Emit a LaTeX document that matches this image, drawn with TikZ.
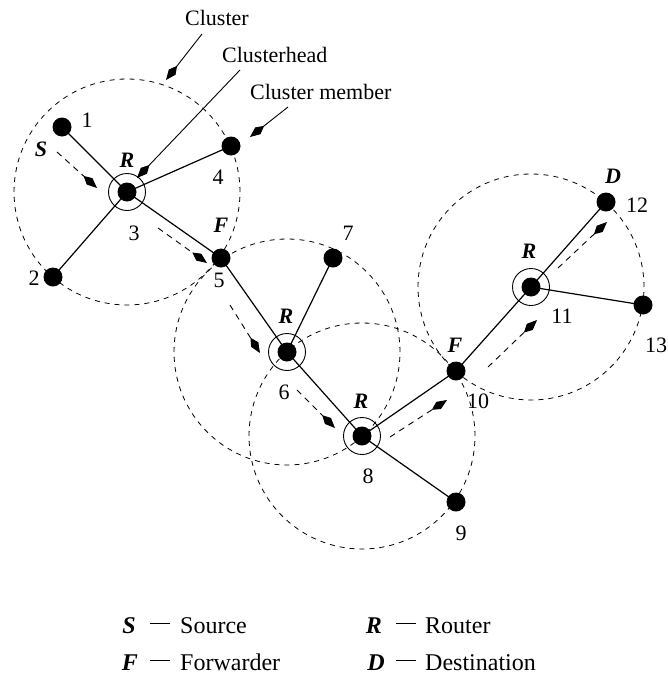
\documentclass[tikz,border=0pt]{standalone}
\usepackage{fontspec}
\setmainfont{Liberation Serif}
\usetikzlibrary{arrows.meta}
\begin{document}
\begin{tikzpicture}[x=1pt,y=-1pt,
  nodedot/.style={circle,fill=black,inner sep=0pt,minimum size=19pt},
  linkline/.style={line width=1.2pt},
  clusterzone/.style={line width=0.8pt,dash pattern=on 5pt off 5pt},
  headring/.style={draw,circle,line width=0.9pt,minimum size=37pt,inner sep=0pt},
  kitetip/.style={-{Kite[length=18pt,width=8.5pt,inset=8pt]}},
  flowline/.style={kitetip,line width=0.9pt,dash pattern=on 6pt off 5pt},
  noteline/.style={kitetip,line width=0.9pt},
  numlabel/.style={font=\fontsize{22}{26}\selectfont,inner sep=0pt,anchor=base},
  rolelabel/.style={numlabel,font=\fontsize{22}{26}\selectfont\bfseries\itshape},
  keytext/.style={font=\fontsize{24}{28}\selectfont,inner sep=0pt,anchor=base west},
  keyrole/.style={font=\fontsize{24}{28}\selectfont\bfseries\itshape,inner sep=0pt,anchor=base},
]
\useasboundingbox (0,0) rectangle (668,678);

% node positions
\coordinate (p1) at (62,127);
\coordinate (p2) at (53,277);
\coordinate (p3) at (127,192);
\coordinate (p4) at (231,146);
\coordinate (p5) at (221,258);
\coordinate (p6) at (287,352);
\coordinate (p7) at (333,258);
\coordinate (p8) at (362,436);
\coordinate (p9) at (456,502);
\coordinate (p10) at (456,371);
\coordinate (p11) at (531,287);
\coordinate (p12) at (606,202);
\coordinate (p13) at (643,305);

% cluster ranges around the clusterheads
\foreach \c in {p3,p6,p8,p11}
  \draw[clusterzone] (\c) circle[radius=113pt];

% links
\draw[linkline] (p1) -- (p3);
\draw[linkline] (p2) -- (p3);
\draw[linkline] (p4) -- (p3);
\draw[linkline] (p3) -- (p5);
\draw[linkline] (p5) -- (p6);
\draw[linkline] (p7) -- (p6);
\draw[linkline] (p6) -- (p8);
\draw[linkline] (p8) -- (p9);
\draw[linkline] (p8) -- (p10);
\draw[linkline] (p10) -- (p11);
\draw[linkline] (p11) -- (p12);
\draw[linkline] (p11) -- (p13);

% clusterhead rings
\foreach \c in {p3,p6,p8,p11}
  \node[headring] at (\c) {};

% nodes
\foreach \i in {1,...,13}
  \node[nodedot] (n\i) at (p\i) {};

% node numbers
\node[numlabel] (t1) at (87,127) {1};
\node[numlabel] (t2) at (34,285) {2};
\node[numlabel] (t3) at (134,240) {3};
\node[numlabel] (t4) at (218,184) {4};
\node[numlabel] (t5) at (219,287) {5};
\node[numlabel] (t6) at (284,399) {6};
\node[numlabel] (t7) at (348,240) {7};
\node[numlabel] (t8) at (368,483) {8};
\node[numlabel] (t9) at (461,540) {9};
\node[numlabel] (t10) at (478,408) {10};
\node[numlabel] (t11) at (562,323) {11};
\node[numlabel] (t12) at (637,212) {12};
\node[numlabel] (t13) at (656,352) {13};

% roles
\node[rolelabel] (rS) at (41,156) {S};
\node[rolelabel] (rR3) at (127,167) {R};
\node[rolelabel] (rF5) at (221,232) {F};
\node[rolelabel] (rR6) at (286,323) {R};
\node[rolelabel] (rR8) at (361,408) {R};
\node[rolelabel] (rF10) at (455,352) {F};
\node[rolelabel] (rR11) at (529,258) {R};
\node[rolelabel] (rD) at (613,183) {D};

% forwarding path
\coordinate (f1a) at (57,152);  \coordinate (f1b) at (97,188);
\coordinate (f2a) at (158,228); \coordinate (f2b) at (207,263);
\coordinate (f3a) at (230,305); \coordinate (f3b) at (260,353);
\coordinate (f4a) at (297,390); \coordinate (f4b) at (335,428);
\coordinate (f5a) at (390,437); \coordinate (f5b) at (447,400);
\coordinate (f6a) at (488,367); \coordinate (f6b) at (537,320);
\coordinate (f7a) at (558,268); \coordinate (f7b) at (607,222);
\foreach \k in {1,...,7}
  \draw[flowline] (f\k a) -- (f\k b);

% annotations
\node[numlabel,anchor=base west] (cl) at (185,25) {Cluster};
\node[numlabel,anchor=base west] (ch) at (222,62) {Clusterhead};
\node[numlabel,anchor=base west] (cm) at (250,99) {Cluster member};
\coordinate (a1) at (202,34);  \coordinate (b1) at (166,80);
\coordinate (a2) at (240,70);  \coordinate (b2) at (137,178);
\coordinate (a3) at (288,107); \coordinate (b3) at (250,137);
\draw[noteline] (a1) -- (b1);
\draw[noteline] (a2) -- (b2);
\draw[noteline] (a3) -- (b3);

% legend
\node[keyrole] (kS) at (129,633) {S};
\node[keytext] (dS) at (150,633) {\rule[9.5pt]{20pt}{0.9pt}};
\node[keytext] (wS) at (180,633) {Source};
\node[keyrole] (kR) at (374,633) {R};
\node[keytext] (dR) at (396,633) {\rule[9.5pt]{20pt}{0.9pt}};
\node[keytext] (wR) at (425,633) {Router};
\node[keyrole] (kF) at (130,670) {F};
\node[keytext] (dF) at (150,670) {\rule[9.5pt]{20pt}{0.9pt}};
\node[keytext] (wF) at (180,670) {Forwarder};
\node[keyrole] (kD) at (376,670) {D};
\node[keytext] (dD) at (396,670) {\rule[9.5pt]{20pt}{0.9pt}};
\node[keytext] (wD) at (425,670) {Destination};
\end{tikzpicture}
\end{document}
